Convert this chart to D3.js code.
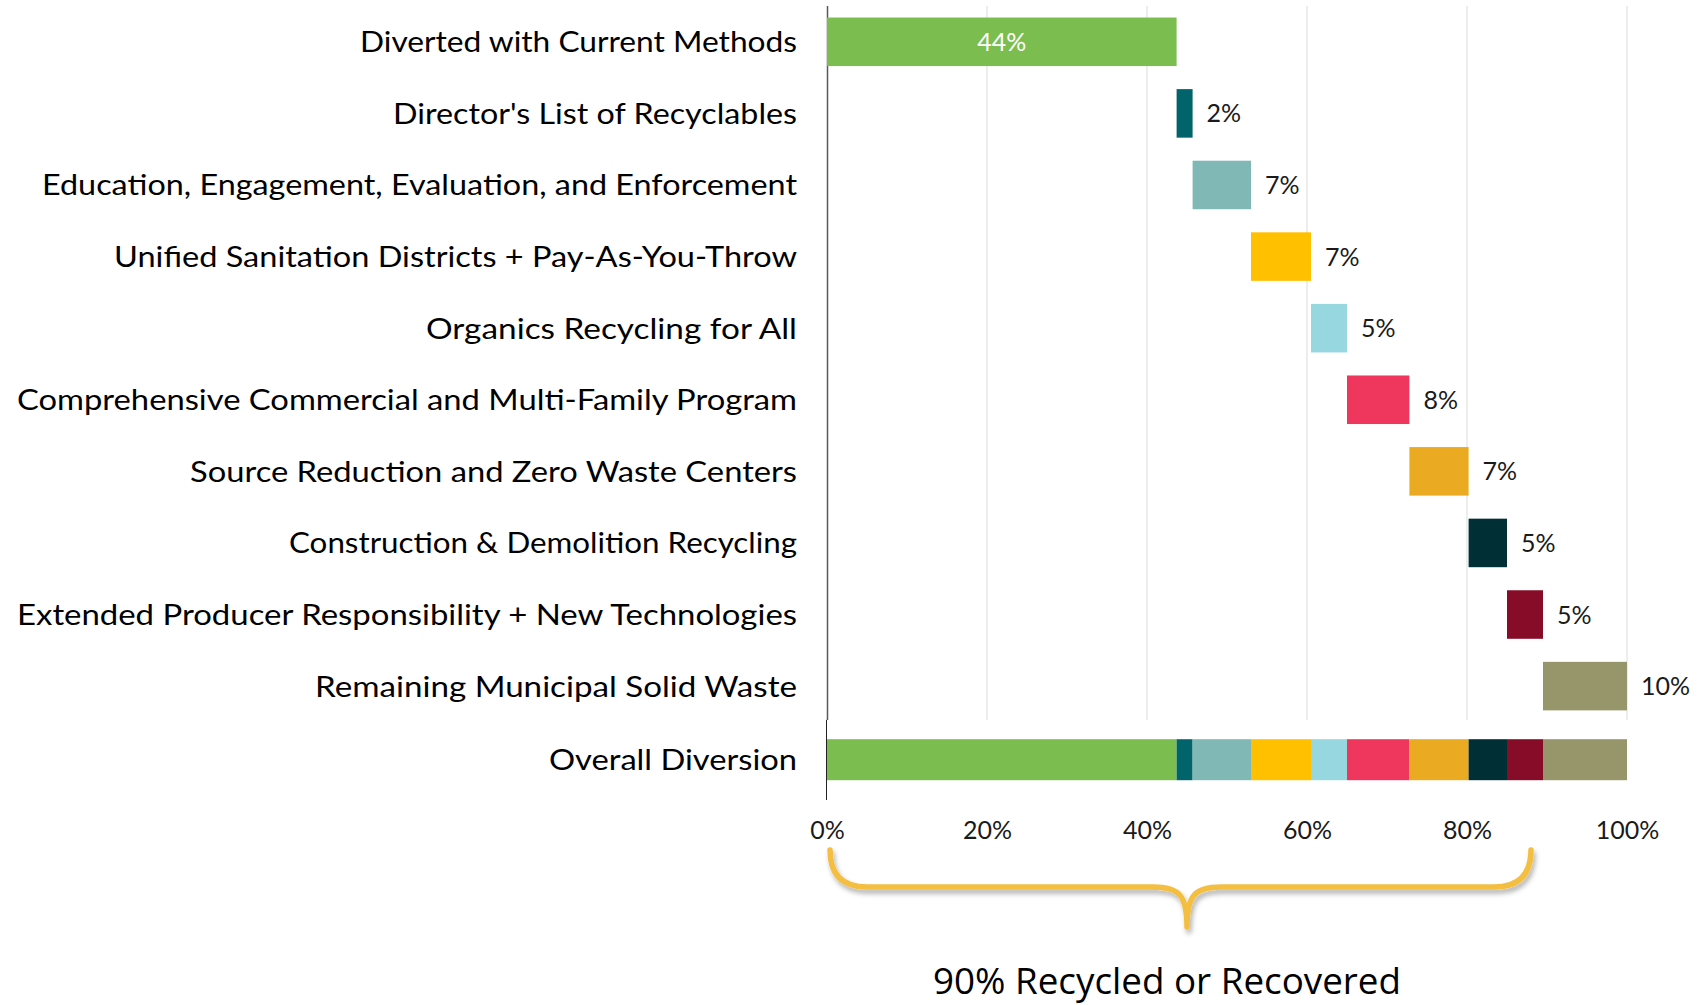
<!DOCTYPE html>
<html>
<head>
<meta charset="utf-8">
<script src="https://d3js.org/d3.v7.min.js"></script>
<style>
  body { margin: 0; background: #fff; }
  svg { display: block; }
</style>
</head>
<body>
<div id="chart"></div>
<script>
// data (percent of total waste stream)
const categories = [
  "Diverted with Current Methods",
  "Director's List of Recyclables",
  "Education, Engagement, Evaluation, and Enforcement",
  "Unified Sanitation Districts + Pay-As-You-Throw",
  "Organics Recycling for All",
  "Comprehensive Commercial and Multi-Family Program",
  "Source Reduction and Zero Waste Centers",
  "Construction & Demolition Recycling",
  "Extended Producer Responsibility + New Technologies",
  "Remaining Municipal Solid Waste"
];
const totalLabel = "Overall Diversion";
const values = [43.7, 2.0, 7.3, 7.5, 4.5, 7.8, 7.4, 4.8, 4.5, 10.5];
const valueLabels = ["44%", "2%", "7%", "7%", "5%", "8%", "7%", "5%", "5%", "10%"];
const colors = ["#7cbd4f", "#00646a", "#80b8b5", "#ffc000", "#97d8e0",
                "#ef365d", "#eaab22", "#002f36", "#870c27", "#96966a"];
const xTicks = [0, 20, 40, 60, 80, 100];
const braceFrom = 0, braceTo = 88, braceTip = 45;
const braceText = "90% Recycled or Recovered";

// rendered widths of the row labels in the original (its font is not installed here)
const labelWidths = [437, 404, 755, 683, 371, 780, 607, 508, 780, 482, 248];

const width = 1698;
const height = 1005;

// 1. set SVG area
const svg = d3.select("#chart").append("svg")
  .attr("width", width)
  .attr("height", height);

const defs = svg.append("defs");
defs.append("filter")
  .attr("id", "shadow")
  .attr("x", "-5%").attr("y", "-40%").attr("width", "110%").attr("height", "180%")
  .append("feDropShadow")
  .attr("dx", 2).attr("dy", 4).attr("stdDeviation", 2.5)
  .attr("flood-color", "#000").attr("flood-opacity", 0.3);

// 2. set scale
const x = d3.scaleLinear().domain([0, 100]).range([827, 1627]);
const y = d3.scaleBand()
  .domain(categories.concat([totalLabel]))
  .range([6, 793.5])
  .paddingInner(0.322)
  .paddingOuter(0.161);

const ends = d3.cumsum(values);
const starts = values.map((v, i) => ends[i] - v);
const bw = y.bandwidth();
const gridBottom = y(categories[categories.length - 1]) + bw + (y.step() - bw) / 2 - 2;

// 3. grid and axis line
svg.append("g")
  .selectAll("line")
  .data(xTicks.slice(1))
  .join("line")
  .attr("x1", d => x(d)).attr("x2", d => x(d))
  .attr("y1", y.range()[0]).attr("y2", gridBottom)
  .attr("stroke", "#e3e3e3")
  .attr("stroke-width", 1.3);

svg.append("line")
  .attr("x1", x(0) + 0.5).attr("x2", x(0) + 0.5)
  .attr("y1", y.range()[0]).attr("y2", gridBottom)
  .attr("stroke", "#595959").attr("stroke-width", 1.5);
svg.append("line")
  .attr("x1", x(0) - 0.5).attr("x2", x(0) - 0.5)
  .attr("y1", gridBottom).attr("y2", 800)
  .attr("stroke", "#222").attr("stroke-width", 1);

// 4. waterfall bars
svg.append("g")
  .selectAll("rect")
  .data(values)
  .join("rect")
  .attr("x", (d, i) => x(starts[i]))
  .attr("y", (d, i) => y(categories[i]))
  .attr("width", (d, i) => x(ends[i]) - x(starts[i]))
  .attr("height", bw)
  .attr("fill", (d, i) => colors[i]);

// 5. overall stacked bar
const totalH = 41;
const totalY = y(totalLabel) + bw / 2 - totalH / 2 + 2;
svg.append("g")
  .selectAll("rect")
  .data(values)
  .join("rect")
  .attr("x", (d, i) => x(starts[i]))
  .attr("y", totalY)
  .attr("width", (d, i) => x(ends[i]) - x(starts[i]))
  .attr("height", totalH)
  .attr("fill", (d, i) => colors[i]);

// 6. value labels
svg.append("g")
  .selectAll("text")
  .data(valueLabels)
  .join("text")
  .attr("x", (d, i) => i === 0 ? (x(starts[i]) + x(ends[i])) / 2 : x(ends[i]) + 14)
  .attr("y", (d, i) => y(categories[i]) + bw / 2)
  .attr("dy", "0.36em")
  .attr("text-anchor", (d, i) => i === 0 ? "middle" : "start")
  .attr("fill", (d, i) => i === 0 ? "#fff" : "#1a1a1a")
  .style("font-family", "Lato, sans-serif")
  .style("font-size", "25px")
  .text(d => d);

// 7. axes
const yAxis = svg.append("g")
  .attr("transform", "translate(" + x(0) + ",0)")
  .call(d3.axisLeft(y).tickSize(0).tickPadding(30));
yAxis.select(".domain").remove();
yAxis.selectAll("text")
  .attr("fill", "#000")
  .attr("dy", "0.36em")
  .attr("textLength", (d, i) => labelWidths[i])
  .attr("lengthAdjust", "spacingAndGlyphs")
  .style("font-family", "Lato, sans-serif")
  .style("font-size", "29px");
yAxis.selectAll(".tick")
  .filter(d => d === totalLabel)
  .attr("transform", "translate(0," + (totalY + totalH / 2) + ")");

const xAxis = svg.append("g")
  .attr("transform", "translate(0,800)")
  .call(d3.axisBottom(x).tickValues(xTicks).tickFormat(d => d + "%").tickSize(0).tickPadding(21));
xAxis.select(".domain").remove();
xAxis.selectAll("text")
  .attr("fill", "#1a1a1a")
  .style("font-family", "Lato, sans-serif")
  .style("font-size", "25px");

// 8. brace
const b0 = x(braceFrom) + 3, b1 = x(braceTo), bt = x(braceTip);
const braceTop = 850, braceMid = 887, braceEnd = 927, r = 37;
const bracePath = d3.path();
bracePath.moveTo(b0, braceTop);
bracePath.quadraticCurveTo(b0, braceMid, b0 + r, braceMid);
bracePath.lineTo(bt - 34, braceMid);
bracePath.bezierCurveTo(bt - 8, braceMid, bt, braceMid + 8, bt, braceEnd);
bracePath.bezierCurveTo(bt, braceMid + 8, bt + 8, braceMid, bt + 34, braceMid);
bracePath.lineTo(b1 - r, braceMid);
bracePath.quadraticCurveTo(b1, braceMid, b1, braceTop);

svg.append("path")
  .attr("d", bracePath.toString())
  .attr("fill", "none")
  .attr("stroke", "#f4be41")
  .attr("stroke-width", 5.5)
  .attr("stroke-linecap", "round")
  .attr("stroke-linejoin", "round")
  .attr("filter", "url(#shadow)");

svg.append("text")
  .attr("x", 1167)
  .attr("y", 994)
  .attr("text-anchor", "middle")
  .attr("textLength", 468)
  .attr("lengthAdjust", "spacingAndGlyphs")
  .attr("fill", "#000")
  .style("font-family", "'Open Sans', sans-serif")
  .style("font-size", "37px")
  .text(braceText);
</script>
</body>
</html>
